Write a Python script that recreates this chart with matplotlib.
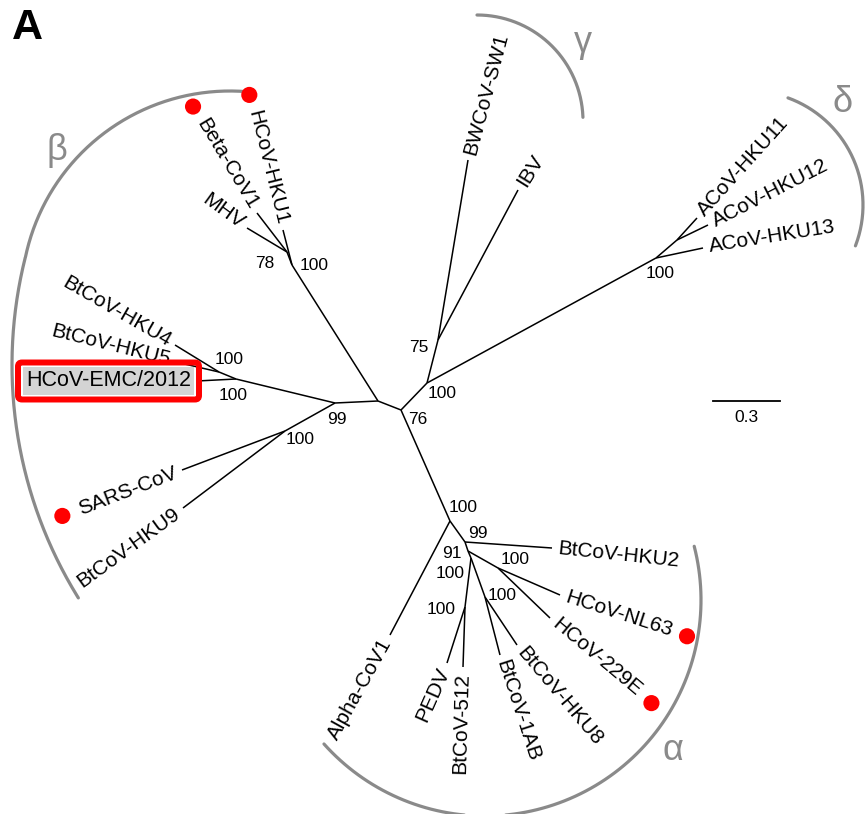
import numpy as np
import matplotlib
matplotlib.use("Agg")
import matplotlib.pyplot as plt
from matplotlib.patches import FancyBboxPatch
from matplotlib.textpath import TextPath
from matplotlib.font_manager import FontProperties

plt.rcParams['font.family'] = ['Liberation Sans', 'DejaVu Sans']

# internal nodes of the unrooted tree (layout in pixels, y down)
node_names = ["c1", "c2", "b100", "b78", "b99", "bemc", "b45", "bsars",
              "gd100", "g75", "d100", "d1112",
              "a100", "a99", "a91", "a_low", "a_nl", "a_ped", "a_hku8"]
node_x = [378, 401, 292, 287, 335, 236, 219, 285,
          427, 438, 656, 677,
          450, 465, 468, 471, 498, 465, 485]
node_y = [401, 410, 265, 252, 403, 379, 372, 431,
          383, 340, 258, 240,
          521, 542, 551, 558, 568, 607, 597]

# internal branches
branch_from = ["c1", "c1", "b100", "c1", "b99", "bemc", "b99", "c2", "gd100", "gd100", "d100",
               "c2", "a100", "a99", "a91", "a91", "a_low", "a_low"]
branch_to = ["c2", "b100", "b78", "b99", "bemc", "b45", "bsars", "gd100", "g75", "d100", "d1112",
             "a100", "a99", "a91", "a_nl", "a_low", "a_ped", "a_hku8"]

# taxa (tips)
taxa = ["HCoV-HKU1", "Beta-CoV1", "MHV", "BtCoV-HKU4", "BtCoV-HKU5", "HCoV-EMC/2012",
        "SARS-CoV", "BtCoV-HKU9", "BWCoV-SW1", "IBV", "ACoV-HKU11", "ACoV-HKU12",
        "ACoV-HKU13", "BtCoV-HKU2", "HCoV-NL63", "HCoV-229E", "BtCoV-HKU8", "BtCoV-1AB",
        "BtCoV-512", "PEDV", "Alpha-CoV1"]
taxa_x = [283, 257, 247, 175, 176, 197, 182, 183, 468, 518, 697, 708,
          703, 552, 560, 550, 517, 500, 463, 447, 390]
taxa_y = [230, 213, 228, 345, 362, 381, 470, 508, 160, 190, 218, 225,
          248, 548, 595, 618, 645, 655, 667, 663, 635]
taxa_parent = ["b100", "b78", "b78", "b45", "b45", "bemc", "bsars", "bsars", "g75", "g75",
               "d1112", "d1112", "d100", "a99", "a_nl", "a_nl", "a_hku8", "a_hku8",
               "a_ped", "a_ped", "a100"]
human = ["HCoV-HKU1", "Beta-CoV1", "SARS-CoV", "HCoV-NL63", "HCoV-229E"]

# bootstrap support values
boot_node = ["b100", "b78", "b45", "bemc", "b99", "bsars", "g75", "gd100", "c2", "d100",
             "a100", "a99", "a91", "a_low", "a_nl", "a_ped", "a_hku8"]
boot_value = ["100", "78", "100", "100", "99", "100", "75", "100", "76", "100",
              "100", "99", "91", "100", "100", "100", "100"]

scale_value = 0.3
px_per_unit = 223

# label placement (outward angle in degrees, label offsets in px)
label_angle = {"HCoV-HKU1": 104, "Beta-CoV1": 121, "MHV": 144, "BtCoV-HKU4": 150,
               "BtCoV-HKU5": 166, "HCoV-EMC/2012": 180, "SARS-CoV": 201, "BtCoV-HKU9": 216,
               "BWCoV-SW1": 75, "IBV": 58, "ACoV-HKU11": 48, "ACoV-HKU12": 27,
               "ACoV-HKU13": 9, "BtCoV-HKU2": -6, "HCoV-NL63": -18, "HCoV-229E": -40,
               "BtCoV-HKU8": -50, "BtCoV-1AB": -72, "BtCoV-512": -91.6, "PEDV": -114,
               "Alpha-CoV1": -119}
boot_offset = {"b100": (22, 1), "b78": (-22, 11), "b45": (10, -12), "bemc": (-3, 16),
               "b99": (2, 17), "bsars": (15, 9), "g75": (-19, 7), "gd100": (15, 11),
               "c2": (17, 10), "d100": (4, 15), "a100": (13, -13), "a99": (13, -9),
               "a91": (-16, 2), "a_low": (-21, 15), "a_nl": (17, -8), "a_ped": (-24, 3),
               "a_hku8": (17, -2)}

W, H = 865, 814
fig = plt.figure(figsize=(W / 100, H / 100), dpi=100)
ax = fig.add_axes([0, 0, 1, 1])
ax.set_xlim(0, W)
ax.set_ylim(H, 0)
ax.axis("off")

pos = {n: (x, y) for n, x, y in zip(node_names, node_x, node_y)}

for a, b in zip(branch_from, branch_to):
    ax.plot([pos[a][0], pos[b][0]], [pos[a][1], pos[b][1]], color="black", lw=1.1,
            solid_capstyle="butt")

fs = 15
fp = FontProperties(family="Liberation Sans")
gap = 6
emc_text = None
for name, tx, ty, par in zip(taxa, taxa_x, taxa_y, taxa_parent):
    px, py = pos[par]
    ax.plot([px, tx], [py, ty], color="black", lw=1.1, solid_capstyle="butt")
    th = label_angle[name]
    ux, uy = np.cos(np.radians(th)), -np.sin(np.radians(th))
    ax_, ay_ = tx + gap * ux, ty + gap * uy
    if -90 < th <= 90:
        ha, rot = "left", th
    else:
        ha, rot = "right", th - 180
    t = ax.text(ax_, ay_, name, fontsize=fs, ha=ha, va="center", rotation=rot,
                rotation_mode="anchor", color="black")
    if name == "HCoV-EMC/2012":
        t.set_fontsize(15.5)
        t.set_bbox(dict(boxstyle="square,pad=0.15", facecolor="#d4d4d4", edgecolor="none"))
        emc_text = t
    if name in human:
        w = TextPath((0, 0), name, size=fs * 100 / 72, prop=fp).get_extents().width
        d = w + 19
        ax.scatter([ax_ + d * ux], [ay_ + d * uy], s=135, color="#ff0000", zorder=5,
                   edgecolors="none")

for n, v in zip(boot_node, boot_value):
    ox, oy = boot_offset[n]
    ax.text(pos[n][0] + ox, pos[n][1] + oy, v, fontsize=12.5, ha="center", va="center")

# clade arcs
gray = "#8a8a8a"
arcs = [
    ("β", [(230, 300, 209, 85.3, 168), (454, 365, 442, 165.9, 211.8)], (57, 150)),
    ("γ", [(477, 121, 106, 90, 2)], (583, 43)),
    ("δ", [(749, 205, 114, 70, -21)], (843, 103)),
    ("α", [(485, 600, 216, 14.4, -138.2)], (673, 750)),
]
for lab, segs, (lx, ly) in arcs:
    for cx, cy, r, t0, t1 in segs:
        t = np.radians(np.linspace(t0, t1, 200))
        ax.plot(cx + r * np.cos(t), cy - r * np.sin(t), color=gray, lw=2.3,
                solid_capstyle="round")
    ax.text(lx, ly, lab, fontsize=26, color=gray, ha="center", va="center")

# scale bar
sx, sy = 713, 401
ax.plot([sx, sx + scale_value * px_per_unit], [sy, sy], color="black", lw=1.3)
ax.text(sx + scale_value * px_per_unit / 2, sy + 17, str(scale_value), fontsize=12.5,
        ha="center", va="center")

# red frame around the novel virus label
fig.canvas.draw()
bb = emc_text.get_window_extent().transformed(ax.transData.inverted())
x0, x1 = min(bb.x0, bb.x1), max(bb.x0, bb.x1)
y0, y1 = min(bb.y0, bb.y1), max(bb.y0, bb.y1)
pad = 8
ax.add_patch(FancyBboxPatch((x0 - pad, y0 - pad), x1 - x0 + 2 * pad, y1 - y0 + 2 * pad,
                            boxstyle="round,pad=0,rounding_size=4", facecolor="none",
                            edgecolor="#ff0000", lw=4.3, zorder=6))

fig.text(12 / W, 1 - 8 / H, "A", fontsize=31, fontweight="bold", ha="left", va="top")

fig.savefig("out.png", dpi=100)
